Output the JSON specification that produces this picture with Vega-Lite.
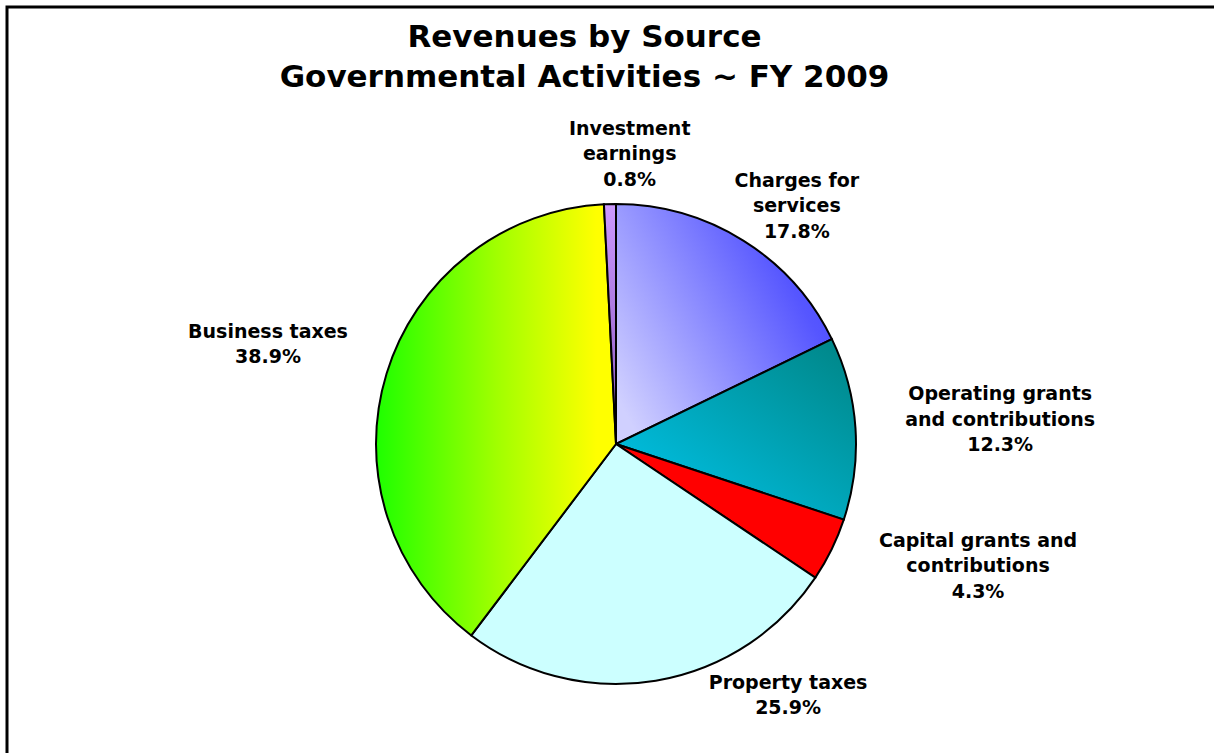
{
  "$schema": "https://vega.github.io/schema/vega-lite/v6.json",
  "width": 1214,
  "height": 753,
  "autosize": {"type": "fit", "contains": "padding"},
  "padding": {"left": 5, "top": 5, "right": -12, "bottom": -12},
  "background": "white",
  "config": {"view": {"stroke": null}},
  "title": {
    "text": ["Revenues by Source", "Governmental Activities ~ FY 2009"],
    "font": "DejaVu Sans",
    "fontSize": 31,
    "fontWeight": "bold",
    "lineHeight": 40,
    "color": "black",
    "anchor": "middle",
    "offset": -88,
    "dx": -31
  },
  "data": {
    "values": [
      {"source": "Charges for services", "share": 17.8, "label": "Charges for\nservices\n17.8%"},
      {"source": "Operating grants and contributions", "share": 12.3, "label": "Operating grants\nand contributions\n12.3%"},
      {"source": "Capital grants and contributions", "share": 4.3, "label": "Capital grants and\ncontributions\n4.3%"},
      {"source": "Property taxes", "share": 25.9, "label": "Property taxes\n25.9%"},
      {"source": "Business taxes", "share": 38.9, "label": "Business taxes\n38.9%"},
      {"source": "Investment earnings", "share": 0.8, "label": "Investment\nearnings\n0.8%"}
    ]
  },
  "transform": [
    {"stack": "share", "groupby": [], "as": ["start", "end"]},
    {"calculate": "(datum.start + datum.end) / 2", "as": "mid"}
  ],
  "layer": [
    {
      "transform": [{"filter": "datum.source === 'Business taxes'"}],
      "mark": {"type": "rect", "filled": false, "stroke": "black", "strokeWidth": 3, "fill": null},
      "encoding": {}
    },
    {
      "transform": [{"filter": "datum.source === 'Charges for services'"}],
      "mark": {"type": "arc", "outerRadius": 240, "x": {"expr": "width/2 + 0.5"}, "y": {"expr": "height/2 + 59"}, "stroke": "black", "strokeWidth": 2,
        "fill": {"gradient": "linear", "x1": 0, "y1": 0.8, "x2": 1, "y2": 0.2, "stops": [{"offset": 0, "color": "#d0d0ff"}, {"offset": 0.8, "color": "#5656ff"}, {"offset": 1, "color": "#4848ff"}]}},
      "encoding": {"theta": {"field": "start", "type": "quantitative", "stack": null, "scale": {"domain": [0, 100]}}, "theta2": {"field": "end"}}
    },
    {
      "transform": [{"filter": "datum.source === 'Operating grants and contributions'"}],
      "mark": {"type": "arc", "outerRadius": 240, "x": {"expr": "width/2 + 0.5"}, "y": {"expr": "height/2 + 59"}, "stroke": "black", "strokeWidth": 2,
        "fill": {"gradient": "linear", "x1": 0, "y1": 1, "x2": 1, "y2": 0, "stops": [{"offset": 0, "color": "#00c8f0"}, {"offset": 1, "color": "#008484"}]}},
      "encoding": {"theta": {"field": "start", "type": "quantitative", "stack": null, "scale": {"domain": [0, 100]}}, "theta2": {"field": "end"}}
    },
    {
      "transform": [{"filter": "datum.source === 'Capital grants and contributions'"}],
      "mark": {"type": "arc", "outerRadius": 240, "x": {"expr": "width/2 + 0.5"}, "y": {"expr": "height/2 + 59"}, "stroke": "black", "strokeWidth": 2, "fill": "#ff0000"},
      "encoding": {"theta": {"field": "start", "type": "quantitative", "stack": null, "scale": {"domain": [0, 100]}}, "theta2": {"field": "end"}}
    },
    {
      "transform": [{"filter": "datum.source === 'Property taxes'"}],
      "mark": {"type": "arc", "outerRadius": 240, "x": {"expr": "width/2 + 0.5"}, "y": {"expr": "height/2 + 59"}, "stroke": "black", "strokeWidth": 2, "fill": "#ccffff"},
      "encoding": {"theta": {"field": "start", "type": "quantitative", "stack": null, "scale": {"domain": [0, 100]}}, "theta2": {"field": "end"}}
    },
    {
      "transform": [{"filter": "datum.source === 'Business taxes'"}],
      "mark": {"type": "arc", "outerRadius": 240, "x": {"expr": "width/2 + 0.5"}, "y": {"expr": "height/2 + 59"}, "stroke": "black", "strokeWidth": 2,
        "fill": {"gradient": "linear", "x1": 0, "y1": 0.5, "x2": 1, "y2": 0.5, "stops": [{"offset": 0, "color": "#1eff00"}, {"offset": 0.5, "color": "#a0ff00"}, {"offset": 0.92, "color": "#ffff00"}, {"offset": 1, "color": "#ffff00"}]}},
      "encoding": {"theta": {"field": "start", "type": "quantitative", "stack": null, "scale": {"domain": [0, 100]}}, "theta2": {"field": "end"}}
    },
    {
      "transform": [{"filter": "datum.source === 'Investment earnings'"}],
      "mark": {"type": "arc", "outerRadius": 240, "x": {"expr": "width/2 + 0.5"}, "y": {"expr": "height/2 + 59"}, "stroke": "black", "strokeWidth": 2,
        "fill": {"gradient": "linear", "x1": 0.5, "y1": 0, "x2": 0.5, "y2": 1, "stops": [{"offset": 0, "color": "#cc99ff"}, {"offset": 1, "color": "#8855bb"}]}},
      "encoding": {"theta": {"field": "start", "type": "quantitative", "stack": null, "scale": {"domain": [0, 100]}}, "theta2": {"field": "end"}}
    },
    {
      "transform": [{"filter": "datum.source === 'Charges for services'"}],
      "mark": {"type": "text", "x": {"expr": "width/2 + 0.5"}, "y": {"expr": "height/2 + 59"}, "radius": 290, "dx": 27, "dy": -17.5, "font": "DejaVu Sans", "fontSize": 19, "fontWeight": "bold", "lineHeight": 25.5, "lineBreak": "\n", "align": "center", "baseline": "middle", "color": "black"},
      "encoding": {"theta": {"field": "mid", "type": "quantitative", "scale": {"domain": [0, 100]}}, "text": {"field": "label"}}
    },
    {
      "transform": [{"filter": "datum.source === 'Operating grants and contributions'"}],
      "mark": {"type": "text", "x": {"expr": "width/2 + 0.5"}, "y": {"expr": "height/2 + 59"}, "radius": 385, "dx": 0, "dy": -24.5, "font": "DejaVu Sans", "fontSize": 19, "fontWeight": "bold", "lineHeight": 25.5, "lineBreak": "\n", "align": "center", "baseline": "middle", "color": "black"},
      "encoding": {"theta": {"field": "mid", "type": "quantitative", "scale": {"domain": [0, 100]}}, "text": {"field": "label"}}
    },
    {
      "transform": [{"filter": "datum.source === 'Capital grants and contributions'"}],
      "mark": {"type": "text", "x": {"expr": "width/2 + 0.5"}, "y": {"expr": "height/2 + 59"}, "radius": 382, "dx": 19, "dy": -71.5, "font": "DejaVu Sans", "fontSize": 19, "fontWeight": "bold", "lineHeight": 25.5, "lineBreak": "\n", "align": "center", "baseline": "middle", "color": "black"},
      "encoding": {"theta": {"field": "mid", "type": "quantitative", "scale": {"domain": [0, 100]}}, "text": {"field": "label"}}
    },
    {
      "transform": [{"filter": "datum.source === 'Property taxes'"}],
      "mark": {"type": "text", "x": {"expr": "width/2 + 0.5"}, "y": {"expr": "height/2 + 59"}, "radius": 260, "dx": 129, "dy": -17.75, "font": "DejaVu Sans", "fontSize": 19, "fontWeight": "bold", "lineHeight": 25.5, "lineBreak": "\n", "align": "center", "baseline": "middle", "color": "black"},
      "encoding": {"theta": {"field": "mid", "type": "quantitative", "scale": {"domain": [0, 100]}}, "text": {"field": "label"}}
    },
    {
      "transform": [{"filter": "datum.source === 'Business taxes'"}],
      "mark": {"type": "text", "x": {"expr": "width/2 + 0.5"}, "y": {"expr": "height/2 + 59"}, "radius": 362, "dx": -2, "dy": -5.75, "font": "DejaVu Sans", "fontSize": 19, "fontWeight": "bold", "lineHeight": 25.5, "lineBreak": "\n", "align": "center", "baseline": "middle", "color": "black"},
      "encoding": {"theta": {"field": "mid", "type": "quantitative", "scale": {"domain": [0, 100]}}, "text": {"field": "label"}}
    },
    {
      "transform": [{"filter": "datum.source === 'Investment earnings'"}],
      "mark": {"type": "text", "x": {"expr": "width/2 + 0.5"}, "y": {"expr": "height/2 + 59"}, "radius": 290, "dx": 21, "dy": -25.5, "font": "DejaVu Sans", "fontSize": 19, "fontWeight": "bold", "lineHeight": 25.5, "lineBreak": "\n", "align": "center", "baseline": "middle", "color": "black"},
      "encoding": {"theta": {"field": "mid", "type": "quantitative", "scale": {"domain": [0, 100]}}, "text": {"field": "label"}}
    }
  ]
}
